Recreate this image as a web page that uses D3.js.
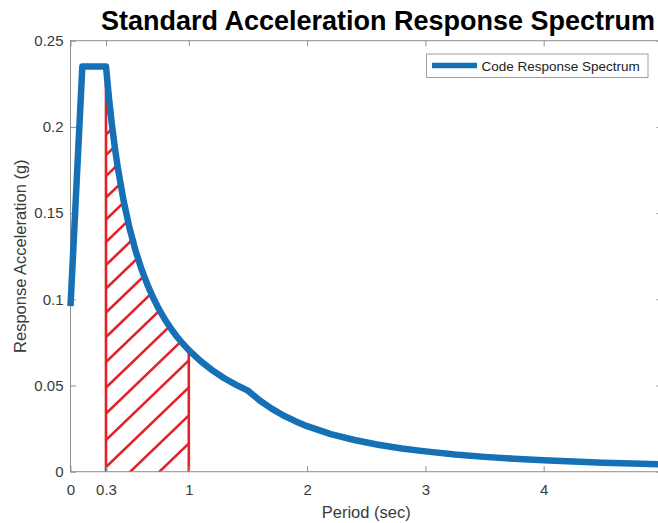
<!DOCTYPE html>
<html>
<head>
<meta charset="utf-8">
<script src="https://cdn.jsdelivr.net/npm/d3@7"></script>
<style>
  body { margin: 0; background: #fff; }
  svg { display: block; font-family: "Liberation Sans", Arial, Helvetica, sans-serif; }
</style>
</head>
<body>
<svg id="chart" width="658" height="523"></svg>
<script>
// Design response spectrum: period (s) vs spectral acceleration (g)
const periods = [0, 0.1, 0.3, 0.325, 0.35, 0.375, 0.4, 0.45, 0.5, 0.55, 0.6, 0.65, 0.7, 0.75, 0.8, 0.85, 0.9, 0.95, 1.0,
                 1.1, 1.2, 1.3, 1.4, 1.5, 1.6, 1.7, 1.8, 1.9, 2.0, 2.2, 2.4, 2.6, 2.8, 3.0,
                 3.25, 3.5, 3.75, 4.0, 4.25, 4.5, 4.75, 5.0];
const accel   = [0.096, 0.235, 0.235, 0.2169, 0.2014, 0.1880, 0.1763, 0.1567, 0.1410, 0.1282, 0.1175, 0.1085, 0.1007, 0.0940, 0.0881, 0.0829, 0.0783, 0.0742, 0.0705,
                 0.0641, 0.0588, 0.0542, 0.0504, 0.0470, 0.0413, 0.0366, 0.0326, 0.0293, 0.0264, 0.0218, 0.0184, 0.0156, 0.0135, 0.0118,
                 0.0100, 0.0086, 0.0075, 0.0066, 0.0059, 0.0052, 0.0047, 0.0042];

// Period band shaded with hatching
const bandRange = [0.3, 1.0];

const xTicks = [0, 0.3, 1, 2, 3, 4, 5];
const xTickLabels = ["0", "0.3", "1", "2", "3", "4", ""];   // last tick sits on the right border
const yTicks = [0, 0.05, 0.1, 0.15, 0.2, 0.25];
const xDomain = [0, 5];
const yDomain = [0, 0.25];

const titleText = "Standard Acceleration Response Spectrum";
const xLabelText = "Period (sec)";
const yLabelText = "Response Acceleration (g)";
const seriesName = "Code Response Spectrum";

const BLUE = "#1570b5";
const RED = "#e2222b";
const AXIS = "#8f8f8f";
const TEXT = "#3a3a3a";

const data = periods.map((p, i) => ({ t: p, a: accel[i] }));

const svg = d3.select("#chart");
const plot = { left: 70.5, right: 662, top: 40.7, bottom: 471.7 };

const x = d3.scaleLinear().domain(xDomain).range([plot.left, plot.right]);
const y = d3.scaleLinear().domain(yDomain).range([plot.bottom, plot.top]);

svg.append("rect").attr("width", 658).attr("height", 523).attr("fill", "#fff");

// --- hatched band under the curve ---
const band = data.filter(d => d.t >= bandRange[0] - 1e-9 && d.t <= bandRange[1] + 1e-9);
const bandArea = d3.area().x(d => x(d.t)).y0(y(0)).y1(d => y(d.a));

svg.append("clipPath").attr("id", "bandClip")
  .append("path").attr("d", bandArea(band));

const hatch = svg.append("g").attr("clip-path", "url(#bandClip)");
const xa = x(bandRange[0]);
const slope = 0.96;           // pixel slope of the hatch strokes
const hatchStarts = [];
// strokes entering from the bottom edge
hatchStarts.push(467 + 28, 467 + 56);
// strokes leaving the left edge, spacing tightening toward the top
let yy = 467, k = 0;
while (yy > plot.top - 20) {
  hatchStarts.push(yy);
  yy -= Math.max(27 - 0.5 * k, 18);
  k++;
}
const xb = x(bandRange[1]) + 10;
hatch.selectAll("line").data(hatchStarts).join("line")
  .attr("x1", xa).attr("y1", d => d)
  .attr("x2", xb).attr("y2", d => d - slope * (xb - xa))
  .attr("stroke", RED).attr("stroke-width", 2.6);

// band edges
const bandEdges = [band[0], band[band.length - 1]];
svg.selectAll("line.edge").data(bandEdges).join("line")
  .attr("class", "edge")
  .attr("x1", d => x(d.t)).attr("x2", d => x(d.t))
  .attr("y1", y(0)).attr("y2", d => y(d.a))
  .attr("stroke", RED).attr("stroke-width", 2.6);

// --- axes box and ticks ---
const axes = svg.append("g");
axes.append("rect")
  .attr("x", plot.left).attr("y", plot.top)
  .attr("width", plot.right - plot.left).attr("height", plot.bottom - plot.top)
  .attr("fill", "none").attr("stroke", AXIS).attr("stroke-width", 1);

const tickLen = 5.5;
const gx = axes.append("g").attr("transform", `translate(0,${plot.bottom})`)
  .call(d3.axisBottom(x).tickValues(xTicks).tickSize(-tickLen).tickPadding(12.2)
        .tickFormat((d, i) => xTickLabels[i]));
const gxTop = axes.append("g").attr("transform", `translate(0,${plot.top})`)
  .call(d3.axisTop(x).tickValues(xTicks).tickSize(-tickLen).tickFormat(""));
const gy = axes.append("g").attr("transform", `translate(${plot.left},0)`)
  .call(d3.axisLeft(y).tickValues(yTicks).tickSize(-tickLen).tickPadding(7)
        .tickFormat(d => String(d)));
const gyRight = axes.append("g").attr("transform", `translate(${plot.right},0)`)
  .call(d3.axisRight(y).tickValues(yTicks).tickSize(-tickLen).tickFormat(""));

[gx, gxTop, gy, gyRight].forEach(g => {
  g.select(".domain").remove();
  g.selectAll(".tick line").attr("stroke", AXIS);
  g.selectAll(".tick text").attr("fill", TEXT)
    .style("font-size", "15px").style("font-family", "'Liberation Sans', Arial, sans-serif");
});

// --- spectrum curve ---
const line = d3.line().x(d => x(d.t)).y(d => y(d.a));
svg.append("path")
  .attr("d", line(data))
  .attr("fill", "none")
  .attr("stroke", BLUE)
  .attr("stroke-width", 6.5)
  .attr("stroke-linejoin", "round");

// --- labels ---
svg.append("text")
  .attr("x", 378).attr("y", 30)
  .attr("text-anchor", "middle")
  .attr("font-weight", "bold").attr("font-size", 27)
  .attr("fill", "#000")
  .text(titleText);

svg.append("text")
  .attr("x", (plot.left + plot.right) / 2).attr("y", 517.5)
  .attr("text-anchor", "middle")
  .attr("font-size", 16.5).attr("fill", TEXT)
  .text(xLabelText);

svg.append("text")
  .attr("transform", `translate(26,${(plot.top + plot.bottom) / 2}) rotate(-90)`)
  .attr("text-anchor", "middle")
  .attr("font-size", 16.5).attr("fill", TEXT)
  .text(yLabelText);

// --- legend ---
const lg = svg.append("g").attr("transform", "translate(426.5,54)");
lg.append("rect").attr("width", 221.5).attr("height", 23.5)
  .attr("fill", "#fff").attr("stroke", "#a0a0a0").attr("stroke-width", 1);
lg.append("line").attr("x1", 5.5).attr("x2", 50.5).attr("y1", 11.5).attr("y2", 11.5)
  .attr("stroke", BLUE).attr("stroke-width", 5.5);
lg.append("text").attr("x", 55).attr("y", 16.5)
  .attr("font-size", 13.5).attr("fill", "#222")
  .text(seriesName);
</script>
</body>
</html>
